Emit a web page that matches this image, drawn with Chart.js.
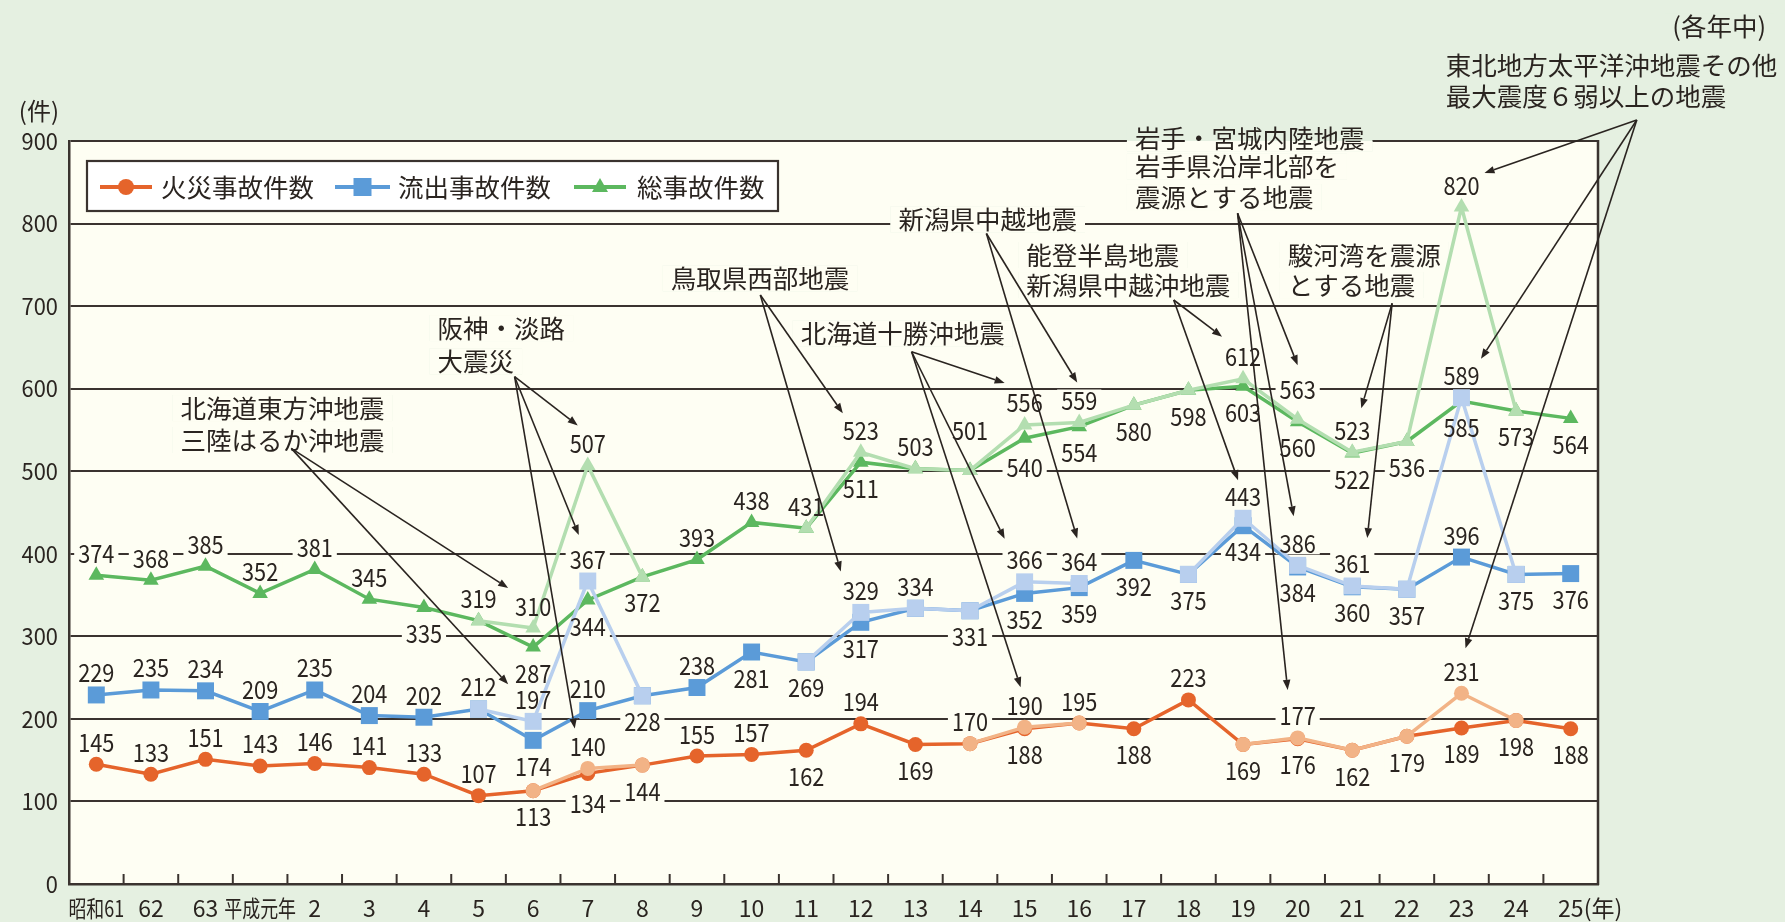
<!DOCTYPE html>
<html><head><meta charset="utf-8">
<script src="https://cdn.jsdelivr.net/npm/chart.js@4/dist/chart.umd.min.js"></script>
<style>html,body{margin:0;padding:0;background:#e5f0e1;}canvas{display:block;}</style>
</head><body>
<canvas id="c" width="1785" height="922"></canvas>
<script>
// ---------- data ----------
const xLabels = ['昭和61','62','63','平成元年','2','3','4','5','6','7','8','9','10','11','12','13','14','15','16','17','18','19','20','21','22','23','24','25'];
const N = null;
// values excluding earthquake-related accidents (dark lines)
const fireAll  = [145,133,151,143,146,141,133,107,113,134,144,155,157,162,194,169,170,188,195,188,223,169,176,162,179,189,198,188];
const spillAll = [229,235,234,209,235,204,202,212,174,210,228,238,281,269,317,334,331,352,359,392,375,434,384,360,357,396,375,376];
const totalAll = [374,368,385,352,381,345,335,319,287,344,372,393,438,431,511,503,501,540,554,580,598,603,560,522,536,585,573,564];
// values including earthquake-related accidents (light lines)
const fireQuake  = [N,N,N,N,N,N,N,N,113,140,144,N,N,N,N,N,170,190,195,N,N,169,177,162,179,231,198,N];
const spillQuake = [N,N,N,N,N,N,N,212,197,367,228,N,N,269,329,334,331,366,364,N,375,443,386,361,357,589,375,N];
const totalQuake = [N,N,N,N,N,N,N,319,310,507,372,N,N,431,523,503,501,556,559,580,598,612,563,523,536,820,573,N];
const seriesNames = ['火災事故件数','流出事故件数','総事故件数'];
const yTicks = [0,100,200,300,400,500,600,700,800,900];

// label placement: a = above, b = below, - = none
const fireAllPos  = 'aaaaaaaa'+'bbb'+'aa'+'babababa'+'bbbbbbb';
const spillAllPos = 'aaaaaaaa'+'baba'+'bbb'+'a'+'bbbbbbbbb'+'abb';
const totalAllPos = 'aaaaaa'+'b'+'a'+'bbb'+'aaa'+'b'+'aa'+'bbbbbbbbbbb';
function quakePos(list){let s='';for(let i=0;i<28;i++)s+=list.includes(i)?'a':'-';return s;}
const fireQuakePos  = quakePos([9,17,22,25]);
const spillQuakePos = quakePos([8,9,14,17,18,21,22,23,25]);
const totalQuakePos = quakePos([8,9,14,17,18,21,22,23,25]);
const labelNudge = {'totalAll:16':-18,'totalQuake:22':-8,'fireAll:9':4,'totalAll:17':3};

// annotations: text anchored in data coordinates (category index, value); arrows to labelled points
const annotations = [
  {lines:['北海道東方沖地震','三陸はるか沖地震'], xi:1.54, v:[576.5,537.8], from:[3.57,527.7],
   to:[['spillQuake',8,-25,-37],['totalQuake',8,-25,-40]]},
  {lines:['阪神・淡路','大震災'], xi:6.25, v:[673.4,633], from:[7.66,614.5],
   to:[['totalQuake',9,-10,-40],['spillQuake',9,-9,-46],['fireQuake',9,-13,-40]]},
  {lines:['鳥取県西部地震'], xi:10.52, v:[733.6], from:[12.16,713.4],
   to:[['totalQuake',14,-18,-39],['spillQuake',14,-20,-41]]},
  {lines:['新潟県中越地震'], xi:14.69, v:[805], from:[16.3,788],
   to:[['totalQuake',18,-2,-40],['spillQuake',18,-2,-45]]},
  {lines:['北海道十勝沖地震'], xi:12.9, v:[667], from:[14.93,644.7],
   to:[['totalQuake',17,-20,-42],['spillQuake',17,-20,-43],['fireQuake',17,-4,-40]]},
  {lines:['能登半島地震','新潟県中越沖地震'], xi:17.03, v:[761.9,725.5], from:[19.73,707.4],
   to:[['totalQuake',21,-21,-42],['spillQuake',21,-5,-38]]},
  {lines:['岩手・宮城内陸地震','岩手県沿岸北部を','震源とする地震'], xi:19.02, v:[903.2,868.8,832.1], from:[20.9,812.4],
   to:[['totalQuake',22,0,-54],['spillQuake',22,-4,-49],['fireQuake',22,-10,-48]]},
  {lines:['駿河湾を震源','とする地震'], xi:21.82, v:[761.9,725.5], from:[23.73,703.4],
   to:[['totalQuake',23,9,-44],['spillQuake',23,15,-48]]},
  {lines:['東北地方太平洋沖地震その他','最大震度６弱以上の地震'], xi:24.71, v:[992,953.6], from:[28.21,925.4],
   to:[['totalQuake',25,23,-34],['spillQuake',25,19.5,-39],['fireQuake',25,4,-45]]},
  {lines:['(各年中)'], xi:28.86, v:[1038.4], from:null, to:[]}
];

// ---------- style ----------
const PAGE_BG='#e5f0e1', PLOT_BG='#fefef3', INK='#2a2420', GRID='#3a332f';
const FONT='"Noto Sans CJK JP","Noto Sans",sans-serif';
const C = {fire:'#e5642b', fireL:'#f2b386', spill:'#5b9bd8', spillL:'#b8cfee', total:'#5cb85f', totalL:'#b3deb0'};

function ds(key,label,data,color,style,radius,order){
  return {key,label,data,borderColor:color,backgroundColor:color,pointBackgroundColor:color,pointBorderColor:color,
    pointBorderWidth:0,pointStyle:style,pointRadius:radius,pointHoverRadius:radius,borderWidth:3.5,tension:0,
    spanGaps:false,order};
}
const datasets = [
  ds('fireAll',seriesNames[0],fireAll,C.fire,'circle',7.5,5),
  ds('spillAll',seriesNames[1],spillAll,C.spill,'rect',12,4),
  ds('totalAll',seriesNames[2],totalAll,C.total,'triangle',9,3),
  ds('fireQuake',seriesNames[0],fireQuake,C.fireL,'circle',7.5,2),
  ds('spillQuake',seriesNames[1],spillQuake,C.spillL,'rect',12,0),
  ds('totalQuake',seriesNames[2],totalQuake,C.totalL,'triangle',9,1)
];
const posMap = {fireAll:fireAllPos,spillAll:spillAllPos,totalAll:totalAllPos,fireQuake:fireQuakePos,spillQuake:spillQuakePos,totalQuake:totalQuakePos};

const NUM_SIZE=25, NUM_SX=0.87;
function metaByKey(chart,key){const i=chart.data.datasets.findIndex(d=>d.key===key);return chart.getDatasetMeta(i);}
function labelItems(chart){
  const ctx=chart.ctx, out=[];
  ctx.save(); ctx.font=NUM_SIZE+'px '+FONT;
  chart.data.datasets.forEach((d,di)=>{
    const pos=posMap[d.key]; const meta=chart.getDatasetMeta(di);
    d.data.forEach((v,i)=>{
      const p=pos[i]; if(v===null||p==='-'||!p) return;
      const pt=meta.data[i]; const nud=labelNudge[d.key+':'+i]||0;
      const y=pt.y+(p==='a'?-22:26)+nud;
      const w=ctx.measureText(String(v)).width*NUM_SX;
      out.push({text:String(v),x:pt.x,y,w});
    });
  });
  ctx.restore(); return out;
}
function drawNum(ctx,text,x,y,size,sx,align){
  ctx.save(); ctx.translate(x,y); ctx.scale(sx,1);
  ctx.font=size+'px '+FONT; ctx.textAlign=align||'center'; ctx.textBaseline='middle'; ctx.fillStyle=INK;
  ctx.fillText(text,0,0); ctx.restore();
}
function arrow(ctx,x0,y0,x1,y1){
  const ang=Math.atan2(y1-y0,x1-x0), L=10, W=3.8;
  const bx=x1-L*Math.cos(ang), by=y1-L*Math.sin(ang);
  ctx.beginPath(); ctx.moveTo(x0,y0); ctx.lineTo(bx,by); ctx.stroke();
  ctx.beginPath(); ctx.moveTo(x1,y1);
  ctx.lineTo(bx+W*Math.sin(ang),by-W*Math.cos(ang));
  ctx.lineTo(bx-W*Math.sin(ang),by+W*Math.cos(ang));
  ctx.closePath(); ctx.fill();
}
const ANN_SIZE=25.5;

const custom = {
  id:'custom',
  beforeDraw(chart){
    const {ctx,chartArea:a}=chart;
    ctx.save();
    ctx.fillStyle=PAGE_BG; ctx.fillRect(0,0,chart.width,chart.height);
    ctx.fillStyle=PLOT_BG; ctx.fillRect(a.left,a.top,a.right-a.left,a.bottom-a.top);
    ctx.restore();
  },
  beforeDatasetsDraw(chart){
    const {ctx,chartArea:a,scales:{x,y}}=chart;
    ctx.save();
    ctx.strokeStyle=GRID; ctx.lineWidth=2.5;
    ctx.beginPath(); ctx.moveTo(a.right,a.top-1); ctx.lineTo(a.right,a.bottom+1); ctx.stroke();
    ctx.lineWidth=2;
    for(let i=0;i<xLabels.length-1;i++){
      const bx=(x.getPixelForValue(i)+x.getPixelForValue(i+1))/2;
      ctx.beginPath(); ctx.moveTo(bx,a.bottom); ctx.lineTo(bx,a.bottom-10); ctx.stroke();
    }
    // clear label backgrounds (break grid lines)
    ctx.fillStyle=PLOT_BG;
    labelItems(chart).forEach(l=>{ctx.fillRect(l.x-l.w/2-4,l.y-11,l.w+8,22);});
    // clear annotation backgrounds
    ctx.font=ANN_SIZE+'px '+FONT;
    annotations.forEach(an=>{
      an.lines.forEach((t,k)=>{
        const lx=x.getPixelForValue(an.xi), ly=y.getPixelForValue(an.v[k]);
        const w=ctx.measureText(t).width;
        ctx.save();
        ctx.fillStyle=PAGE_BG; ctx.fillRect(lx-8,ly-13,w+16,26);
        ctx.beginPath(); ctx.rect(a.left+2,a.top,a.right-a.left-4,a.bottom-a.top); ctx.clip();
        ctx.fillStyle=PLOT_BG; ctx.fillRect(lx-8,ly-13,w+16,26);
        ctx.restore();
      });
    });
    ctx.restore();
  },
  afterDatasetsDraw(chart){
    const {ctx,scales:{x,y}}=chart;
    labelItems(chart).forEach(l=>drawNum(ctx,l.text,l.x,l.y,NUM_SIZE,NUM_SX));
    ctx.save();
    ctx.fillStyle=INK; ctx.strokeStyle=INK; ctx.lineWidth=1.6;
    ctx.font=ANN_SIZE+'px '+FONT; ctx.textAlign='left'; ctx.textBaseline='middle';
    annotations.forEach(an=>{
      an.lines.forEach((t,k)=>ctx.fillText(t,x.getPixelForValue(an.xi),y.getPixelForValue(an.v[k])));
      if(!an.from) return;
      const ox=x.getPixelForValue(an.from[0]), oy=y.getPixelForValue(an.from[1]);
      an.to.forEach(([key,i,dx,dy])=>{
        const pt=metaByKey(chart,key).data[i];
        arrow(ctx,ox,oy,pt.x+dx,pt.y+dy);
      });
    });
    ctx.restore();
  },
  afterDraw(chart){
    const {ctx,chartArea:a,scales:{x,y}}=chart;
    // y tick labels
    yTicks.forEach(v=>drawNum(ctx,String(v),a.left-11,y.getPixelForValue(v),23,0.95,'right'));
    // unit
    ctx.save(); ctx.fillStyle=INK; ctx.font='24px '+FONT; ctx.textAlign='center'; ctx.textBaseline='middle';
    ctx.fillText('(件)',x.getPixelForValue(-1.05),y.getPixelForValue(936));
    ctx.restore();
    // x labels
    xLabels.forEach((t,i)=>{
      const cjk=/[^0-9]/.test(t);
      drawNum(ctx,t,x.getPixelForValue(i),a.bottom+24,23,cjk?0.78:1);
    });
    ctx.save(); ctx.fillStyle=INK; ctx.font='23px '+FONT; ctx.textAlign='left'; ctx.textBaseline='middle';
    ctx.fillText('(年)',x.getPixelForValue(27)+13,a.bottom+24);
    ctx.restore();
    // legend
    ctx.save();
    const L={x:87,y:161,w:691,h:50};
    ctx.fillStyle='#ffffff'; ctx.fillRect(L.x,L.y,L.w,L.h);
    ctx.strokeStyle=GRID; ctx.lineWidth=2.2; ctx.strokeRect(L.x,L.y,L.w,L.h);
    const cy=L.y+L.h/2+1;
    const items=[{x0:100,x1:152,tx:161,c:C.fire,s:'circle'},{x0:335,x1:390,tx:398,c:C.spill,s:'rect'},{x0:574,x1:626,tx:637,c:C.total,s:'triangle'}];
    items.forEach((it,k)=>{
      ctx.strokeStyle=it.c; ctx.fillStyle=it.c; ctx.lineWidth=4;
      ctx.beginPath(); ctx.moveTo(it.x0,cy); ctx.lineTo(it.x1,cy); ctx.stroke();
      const mx=(it.x0+it.x1)/2;
      ctx.beginPath();
      if(it.s==='circle'){ctx.arc(mx,cy,8,0,Math.PI*2);}
      else if(it.s==='rect'){ctx.rect(mx-9,cy-9,18,18);}
      else {ctx.moveTo(mx,cy-9);ctx.lineTo(mx+8,cy+5);ctx.lineTo(mx-8,cy+5);ctx.closePath();}
      ctx.fill();
      ctx.fillStyle=INK; ctx.font=ANN_SIZE+'px '+FONT; ctx.textAlign='left'; ctx.textBaseline='middle';
      ctx.fillText(seriesNames[k],it.tx,cy);
    });
    ctx.restore();
  }
};

new Chart(document.getElementById('c'),{
  type:'line',
  data:{labels:xLabels,datasets},
  options:{
    responsive:false, devicePixelRatio:1, animation:false,
    layout:{padding:{left:69,top:141,right:187,bottom:38}},
    plugins:{legend:{display:false},tooltip:{enabled:false}},
    scales:{
      x:{type:'category',offset:true,grid:{display:false,drawTicks:false},ticks:{display:false},
         border:{display:true,color:GRID,width:2.5}},
      y:{min:0,max:900,ticks:{display:false,stepSize:100},grid:{color:GRID,lineWidth:2,drawTicks:false},
         border:{display:true,color:GRID,width:2.5}}
    }
  },
  plugins:[custom]
});
</script>
</body></html>
